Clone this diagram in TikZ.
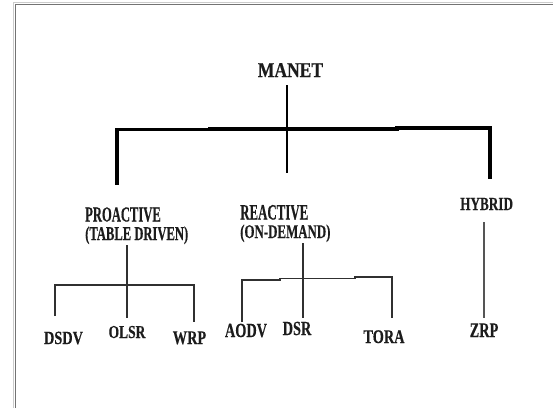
\documentclass[tikz,border=0pt]{standalone}
\usepackage{fontspec}
\setmainfont{Liberation Serif}[BoldFeatures={FakeBold=0.5}]
\usepackage{graphicx}
\newcommand{\vsc}[2]{\scalebox{1}[#1]{#2}}
\definecolor{inkc}{HTML}{1C1C1C}
\definecolor{linec}{HTML}{303030}
\definecolor{hybc}{HTML}{555555}
\begin{document}
\begin{tikzpicture}[x=1pt,y=-1pt,
  txt/.style={inner sep=0pt, text=inkc},
  leaf/.style={txt, anchor=base, font=\bfseries\fontsize{14.3}{16}\selectfont},
  cat/.style={txt, anchor=base west, font=\bfseries\fontsize{12.6}{16}\selectfont},
  top/.style={txt, anchor=base, font=\bfseries\fontsize{17.5}{20}\selectfont},
  bar/.style={draw=black, line width=3.2pt},
  stem/.style={draw=black, line width=2pt},
  twig/.style={draw=linec, line width=1.4pt},
  hyb/.style={draw=hybc, line width=1.5pt},
  frame/.style={draw=black!55, line width=1.3pt}]
\useasboundingbox (0,0) rectangle (553,408);
% frame
\draw[black!20, line width=0.8pt] (13,408) -- (13,2.5) -- (553,2.5);
\draw[frame] (15.5,408) -- (15.5,4.5) -- (553,4.5);

% texts
\node[top] (manet) at (290.5,77) {\vsc{1.2}{MANET}};
\node[cat] (pro1) at (85,221.5) {\vsc{1.7}{PROACTIVE}};
\node[cat] (pro2) at (85,240) {\vsc{1.55}{(TABLE DRIVEN)}};
\node[cat, font=\bfseries\fontsize{12.9}{16}\selectfont] (rea1) at (240,219.5) {\vsc{1.7}{REACTIVE}};
\node[cat, font=\bfseries\fontsize{12.9}{16}\selectfont] (rea2) at (240,238) {\vsc{1.5}{(ON-DEMAND)}};
\node[cat, font=\bfseries\fontsize{13.2}{16}\selectfont] (hyb) at (460,210) {\vsc{1.4}{HYBRID}};

\node[leaf] (dsdv) at (63.5,344) {\vsc{1.3}{DSDV}};
\node[leaf, font=\bfseries\fontsize{13.5}{16}\selectfont] (olsr) at (127,338) {\vsc{1.35}{OLSR}};
\node[leaf] (wrp) at (189.5,344) {\vsc{1.35}{WRP}};
\node[leaf] (aodv) at (246,337) {\vsc{1.4}{AODV}};
\node[leaf] (dsr) at (297,335) {\vsc{1.4}{DSR}};
\node[leaf] (tora) at (384,343) {\vsc{1.35}{TORA}};
\node[leaf] (zrp) at (484,337) {\vsc{1.45}{ZRP}};

% junction coordinates
\coordinate (mtop) at (287,85);
\coordinate (mbot) at (287,173);
\coordinate (bl) at (117,129.5);
\coordinate (bld) at (117,183);
\coordinate (br) at (490,128);
\coordinate (brd) at (490,177);

\coordinate (ptop) at (127,245);
\coordinate (pbot) at (127,318);
\coordinate (pl) at (55,285);
\coordinate (pld) at (55,316);
\coordinate (pr) at (194,285);
\coordinate (prd) at (194,322);

\coordinate (rtop) at (303,243);
\coordinate (rbot) at (303,318);
\coordinate (rl) at (242,280);
\coordinate (rld) at (242,322);
\coordinate (rr) at (392,277);
\coordinate (rrd) at (392,318);

\coordinate (htop) at (484,222);
\coordinate (hbot) at (484,318);

% MANET level
\draw[stem] (mtop) -- (mbot);
\draw[bar, line cap=rect] (bld) -- (bl) -- (210,129.5) -- (210,129) -- (397,129) -- (397,128) -- (br) -- (brd);

% proactive
\draw[twig] (ptop) -- (pbot);
\draw[twig] (pld) -- (pl) -- (pr) -- (prd);

% reactive
\draw[twig] (rtop) -- (rbot);
\draw[twig] (rld) -- (rl) -- (280,280) -- (280,278.5) -- (355,278.5) -- (355,277) -- (rr) -- (rrd);

% hybrid
\draw[hyb] (htop) -- (hbot);
\end{tikzpicture}
\end{document}
